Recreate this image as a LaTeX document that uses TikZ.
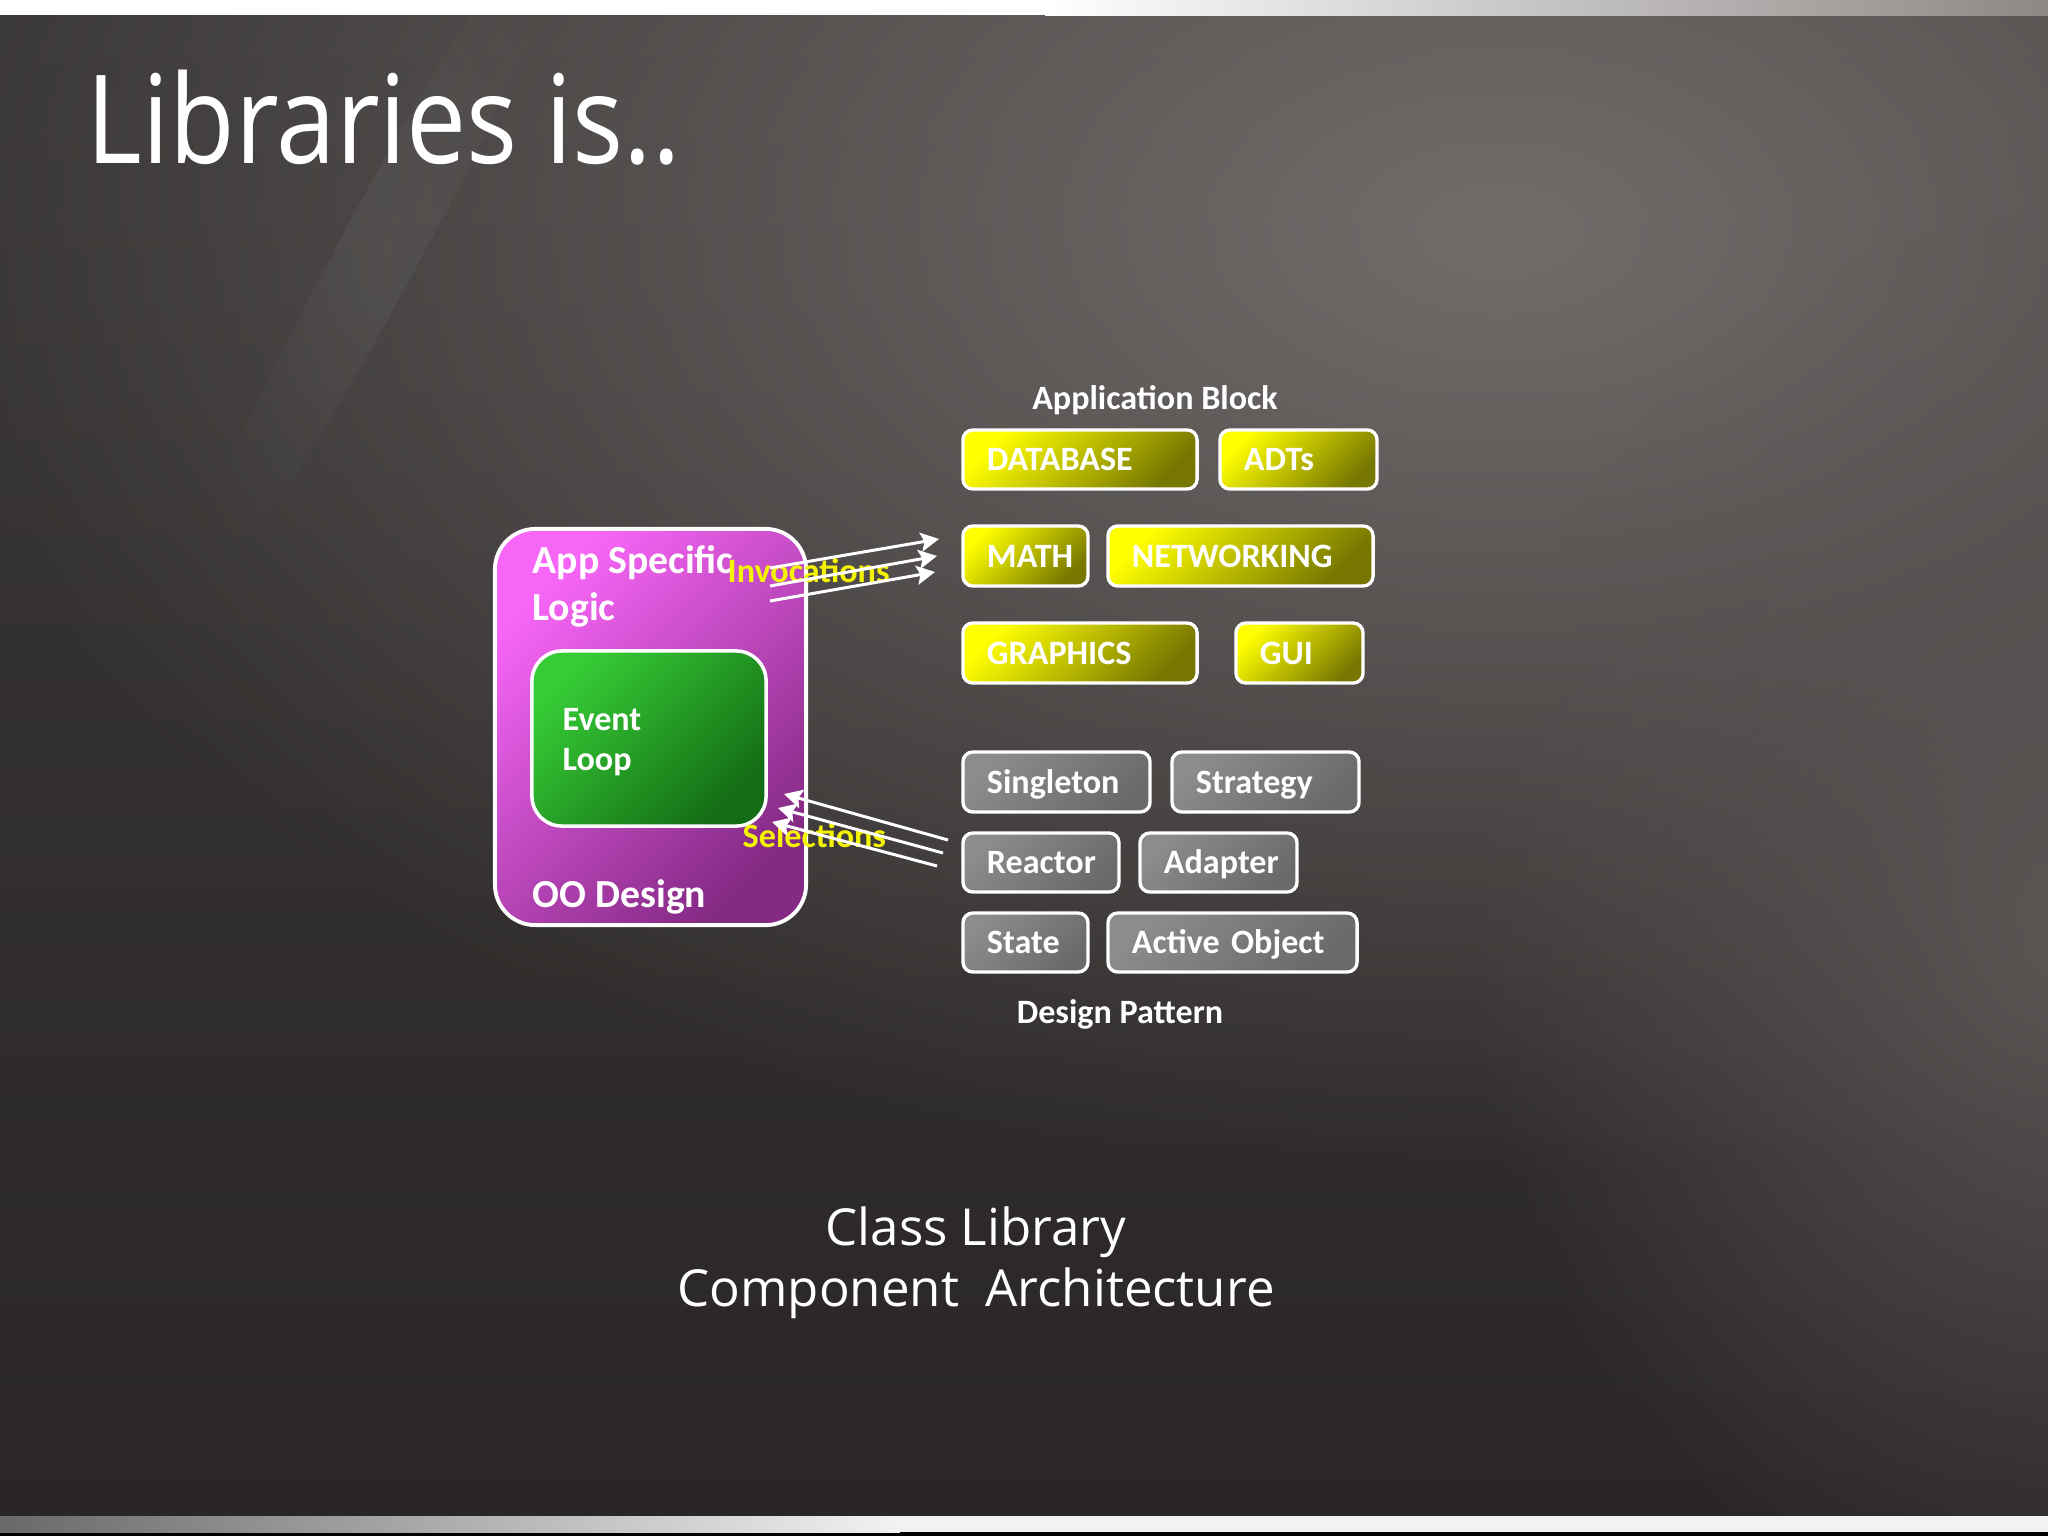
\documentclass[tikz,border=0pt]{standalone}
\usepackage{fontspec}
\setmainfont{Carlito}
\newfontfamily\segfont{Open Sans}
\newfontfamily\segtitle[FakeStretch=0.87]{Open Sans}
\usetikzlibrary{arrows.meta,fadings}
\definecolor{bgT}{HTML}{3A3837}
\definecolor{bgM}{HTML}{312D2D}
\definecolor{bgB}{HTML}{2A2626}
\definecolor{glowA}{HTML}{726D6B}
\definecolor{glowB}{HTML}{5C5655}
\definecolor{pinkA}{HTML}{F866F8}
\definecolor{pinkB}{HTML}{842A84}
\definecolor{greenA}{HTML}{36CC36}
\definecolor{greenB}{HTML}{146C14}
\definecolor{yelA}{HTML}{FFFF00}
\definecolor{yelB}{HTML}{767600}
\definecolor{greyA}{HTML}{8C8C8C}
\definecolor{greyB}{HTML}{6A6A6A}
\definecolor{labY}{HTML}{F4F400}
\definecolor{bandR}{HTML}{8C8886}
\definecolor{bandL}{HTML}{696969}
\definecolor{bandW}{HTML}{F2F2F2}
\tikzfading[name=glowfade, inner color=transparent!0, outer color=transparent!100]
\tikzset{
  lib/.style={draw=white, line width=0.95pt, rounded corners=2.8pt, text=white,
    font=\bfseries\fontsize{9.7}{11}\selectfont, text height=0.63em, text depth=0pt,
    align=left, inner xsep=0.24cm, inner ysep=0pt},
  ybox/.style={lib, top color=yelA, bottom color=yelB, shading angle=45},
  gbox/.style={lib, top color=greyA, bottom color=greyB, shading angle=45},
  wtxt/.style={text=white, inner sep=0pt},
  big/.style={wtxt, font=\bfseries\fontsize{11.3}{13}\selectfont},
  mid/.style={wtxt, font=\bfseries\fontsize{9.7}{11}\selectfont},
  ylab/.style={text=labY, inner sep=0pt, font=\bfseries\fontsize{9.7}{11}\selectfont},
  conn/.style={draw=white, line width=0.85pt, -{Stealth[length=5.2pt,width=5.4pt,inset=1pt]}},
}
\begin{document}
\begin{tikzpicture}[x=0.01cm,y=-0.01cm]
\useasboundingbox (0,0) rectangle (2048,1536);
% background
\fill[black] (0,0) rectangle (2048,1536);
\shade[top color=bgT, middle color=bgM, bottom color=bgB] (0,15) rectangle (2048,1516);
\begin{scope}
\clip (0,15) rectangle (2048,1516);
\fill[glowA, path fading=glowfade] (1500,230) ellipse (1600 and 950);
\fill[glowB, path fading=glowfade] (2080,930) ellipse (620 and 720);
\fill[white, opacity=0.05, path fading=glowfade, rotate around={61.7:(380,250)}] (380,250) ellipse (420 and 40);
\end{scope}
% top and bottom bands
\fill[white] (0,0) rectangle (1045,15);
\shade[left color=white, right color=bandR] (1045,0) rectangle (2048,15);
\shade[left color=bandL, right color=bandW] (0,1516) rectangle (900,1532);
\fill[bandW] (900,1516) rectangle (2048,1532);

% title
\node[wtxt, anchor=base west, font=\segtitle\fontsize{35}{40}\selectfont] (title) at (86,163) {Libraries is..};

% main box
\node[draw=white, line width=1.1pt, rounded corners=11.5pt, top color=pinkA, bottom color=pinkB, shading angle=45,
  minimum width=3.11cm, minimum height=3.96cm, inner sep=0pt] (oo) at (650.5,727) {};
\node[draw=white, line width=1.0pt, rounded corners=8.5pt, top color=greenA, bottom color=greenB, shading angle=45,
  minimum width=2.34cm, minimum height=1.75cm, inner sep=0pt] (ev) at (649,738.5) {};
\node[big, anchor=base west] (asl1) at (532,573) {App Specific};
\node[big, anchor=base west] (asl2) at (532,620) {Logic};
\node[big, anchor=base west] (ood) at (532,907) {OO Design};
\node[mid, anchor=base west] (ev1) at (562,730) {Event};
\node[mid, anchor=base west] (ev2) at (562,770) {Loop};

% labels
\node[mid, anchor=base] (ab) at (1155,409) {Application Block};
\node[mid, anchor=base] (dp) at (1120,1023) {Design Pattern};

% application block boxes
\node[ybox, minimum width=2.34cm, text width=1.86cm, minimum height=0.59cm] (db) at (1080,459.5) {DATABASE};
\node[ybox, minimum width=1.57cm, text width=1.09cm, minimum height=0.59cm] (adt) at (1298.5,459.5) {ADTs};
\node[ybox, minimum width=1.25cm, text width=0.77cm, minimum height=0.60cm] (math) at (1025.5,556) {MATH};
\node[ybox, minimum width=2.65cm, text width=2.17cm, minimum height=0.60cm] (net) at (1240.5,556) {NETWORKING};
\node[ybox, minimum width=2.34cm, text width=1.86cm, minimum height=0.60cm] (gfx) at (1080,653) {GRAPHICS};
\node[ybox, minimum width=1.27cm, text width=0.79cm, minimum height=0.60cm] (gui) at (1299.5,653) {GUI};

% design pattern boxes
\node[gbox, minimum width=1.87cm, text width=1.39cm, minimum height=0.60cm] (sing) at (1056.5,782) {Singleton};
\node[gbox, minimum width=1.87cm, text width=1.39cm, minimum height=0.60cm] (strat) at (1265.5,782) {Strategy};
\node[gbox, minimum width=1.56cm, text width=1.08cm, minimum height=0.59cm] (react) at (1041,862.5) {Reactor};
\node[gbox, minimum width=1.57cm, text width=1.09cm, minimum height=0.59cm] (adap) at (1218.5,862.5) {Adapter};
\node[gbox, minimum width=1.25cm, text width=0.77cm, minimum height=0.59cm] (state) at (1025.5,942.5) {State};
\node[gbox, minimum width=2.49cm, text width=2.01cm, minimum height=0.59cm] (act) at (1232.5,942.5) {Active Object};

% connector labels
\node[ylab, anchor=base west] (inv) at (727,582) {Invocations};
\node[ylab, anchor=base west] (sel) at (742,847) {Selections};

% invocation arrows
\coordinate (i1s) at (770,568); \coordinate (i1e) at (939,539);
\coordinate (i2s) at (770,586); \coordinate (i2e) at (937,556);
\coordinate (i3s) at (770,601); \coordinate (i3e) at (935,572);
\draw[conn] (i1s) -- (i1e);
\draw[conn] (i2s) -- (i2e);
\draw[conn] (i3s) -- (i3e);
% selection arrows
\coordinate (s1s) at (948,840); \coordinate (s1e) at (784,794);
\coordinate (s2s) at (943,853); \coordinate (s2e) at (778,808);
\coordinate (s3s) at (937,866); \coordinate (s3e) at (772,822);
\draw[conn] (s1s) -- (s1e);
\draw[conn] (s2s) -- (s2e);
\draw[conn] (s3s) -- (s3e);

% bottom text
\node[wtxt, anchor=base, font=\segfont\fontsize{14.5}{17}\selectfont] (cl) at (976,1245) {Class Library};
\node[wtxt, anchor=base, font=\segfont\fontsize{14.5}{17}\selectfont] (ca) at (976,1306) {Component\ \ Architecture};
\end{tikzpicture}
\end{document}
